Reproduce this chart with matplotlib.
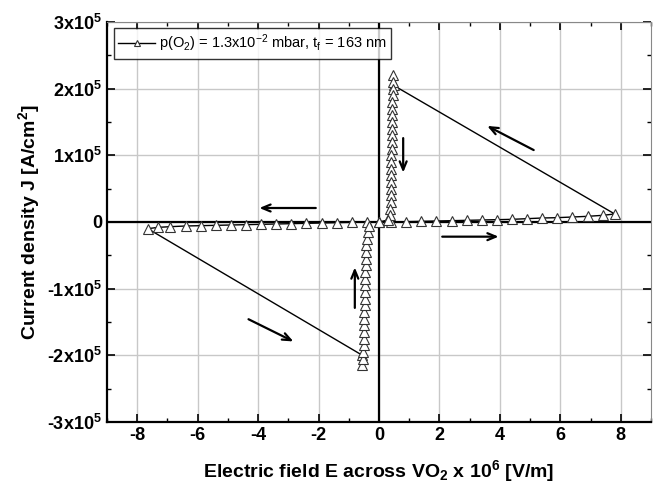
import matplotlib
matplotlib.use("Agg")
import matplotlib.pyplot as plt
from matplotlib.ticker import MultipleLocator, FixedLocator

plt.rcParams['font.family'] = ['Liberation Sans Narrow', 'Liberation Sans', 'DejaVu Sans']
plt.rcParams['mathtext.fontset'] = 'custom'
plt.rcParams['mathtext.rm'] = 'Liberation Sans'
plt.rcParams['mathtext.it'] = 'Liberation Sans'
plt.rcParams['mathtext.bf'] = 'Liberation Sans:bold'
plt.rcParams['axes.unicode_minus'] = False

# Forward sweep 0 -> +7.8 (insulating branch), units: E x10^6 V/m, J x10^5 A/cm^2
e_pos_low = [0.0, 0.4, 0.9, 1.4, 1.9, 2.4, 2.9, 3.4, 3.9, 4.4, 4.9, 5.4, 5.9, 6.4, 6.9, 7.4, 7.8]
j_pos_low = [0.0, 0.0, 0.005, 0.01, 0.015, 0.02, 0.025, 0.03, 0.035, 0.04, 0.05, 0.06, 0.065, 0.075, 0.085, 0.1, 0.12]
# Metallic branch after switching, descending at E ~ 0.4
e_pos_high = [0.48, 0.46, 0.46, 0.45, 0.45, 0.44, 0.44, 0.43, 0.43, 0.43, 0.42, 0.42, 0.42, 0.41, 0.41, 0.41, 0.40, 0.40, 0.40, 0.39, 0.39, 0.38, 0.37, 0.30]
j_pos_high = [2.05, 2.2, 2.1, 2.0, 1.9, 1.8, 1.7, 1.6, 1.5, 1.4, 1.3, 1.2, 1.1, 1.0, 0.9, 0.8, 0.7, 0.6, 0.5, 0.4, 0.3, 0.2, 0.1, 0.03]
# Reverse sweep 0 -> -7.65
e_neg_low = [0.0, -0.4, -0.9, -1.4, -1.9, -2.4, -2.9, -3.4, -3.9, -4.4, -4.9, -5.4, -5.9, -6.4, -6.9, -7.3, -7.65]
j_neg_low = [0.0, 0.0, -0.005, -0.01, -0.015, -0.02, -0.025, -0.03, -0.035, -0.04, -0.045, -0.05, -0.055, -0.06, -0.07, -0.08, -0.1]
# Metallic branch, ascending at E ~ -0.45
e_neg_high = [-0.55, -0.55, -0.53, -0.52, -0.51, -0.5, -0.49, -0.49, -0.48, -0.48, -0.47, -0.47, -0.46, -0.46, -0.45, -0.45, -0.44, -0.44, -0.43, -0.42, -0.41, -0.38, -0.32]
j_neg_high = [-2.0, -2.15, -2.05, -1.95, -1.85, -1.75, -1.65, -1.55, -1.45, -1.35, -1.25, -1.15, -1.05, -0.95, -0.85, -0.75, -0.65, -0.55, -0.45, -0.35, -0.25, -0.15, -0.06]

e_all = e_pos_low + e_pos_high + e_neg_low + e_neg_high
j_all = [v * 1e5 for v in j_pos_low + j_pos_high + j_neg_low + j_neg_high]

y_ticks = [-3, -2, -1, 0, 1, 2, 3]
y_labels = [r'-3x10$^\mathbf{5}$', r'-2x10$^\mathbf{5}$', r'-1x10$^\mathbf{5}$', '0',
            r'1x10$^\mathbf{5}$', r'2x10$^\mathbf{5}$', r'3x10$^\mathbf{5}$']
x_ticks = [-8, -6, -4, -2, 0, 2, 4, 6, 8]

# arrows: (x_start, y_start, x_end, y_end) in data units (J in 1e5)
arrows = [(5.2, 1.06, 3.5, 1.46),
          (0.8, 1.3, 0.8, 0.7),
          (-2.0, 0.21, -4.05, 0.21),
          (2.0, -0.22, 4.05, -0.22),
          (-0.8, -1.33, -0.8, -0.64),
          (-4.4, -1.44, -2.75, -1.81)]

fig = plt.figure(figsize=(6.56, 4.88), dpi=100)
ax = fig.add_axes([107/656, 66/488, 544/656, 400/488])

ax.set_xlim(-9, 9)
ax.set_ylim(-3e5, 3e5)
ax.grid(True, color='#c8c8c8', linewidth=1.0)
ax.set_axisbelow(True)
ax.axhline(0, color='black', linewidth=1.6, zorder=2)
ax.axvline(0, color='black', linewidth=1.6, zorder=2)

ax.plot(e_all, j_all, color='black', linewidth=1.0, marker='^', markersize=7.5,
        markerfacecolor='white', markeredgecolor='#333333', markeredgewidth=0.8, zorder=3,
        label=r'p(O$_\mathrm{2}$) = 1.3x10$^\mathrm{-2}$ mbar, t$_\mathrm{f}$ = 163 nm')

for xs, ys, xe, ye in arrows:
    ax.annotate('', xy=(xe, ye * 1e5), xytext=(xs, ys * 1e5),
                arrowprops=dict(arrowstyle='->,head_length=0.6,head_width=0.25', color='black', lw=1.6))

ax.xaxis.set_major_locator(FixedLocator(x_ticks))
ax.xaxis.set_minor_locator(MultipleLocator(1))
ax.set_yticks([v * 1e5 for v in y_ticks])
ax.set_yticklabels(y_labels)
ax.yaxis.set_minor_locator(MultipleLocator(0.5e5))
ax.tick_params(which='both', direction='in', top=True, right=True, labelsize=13)
ax.tick_params(which='major', length=6, width=1.2)
ax.tick_params(which='minor', length=3, width=1.0)
for lbl in ax.get_xticklabels() + ax.get_yticklabels():
    lbl.set_fontweight('bold')

ax.spines['left'].set_linewidth(1.6)
ax.spines['bottom'].set_linewidth(1.6)
ax.spines['top'].set_color('#888888')
ax.spines['right'].set_color('#888888')

ax.set_xlabel(r'Electric field E across VO$_\mathbf{2}$ x 10$^\mathbf{6}$ [V/m]', fontsize=14, fontweight='bold', labelpad=10)
ax.set_ylabel(r'Current density J [A/cm$^\mathbf{2}$]', fontsize=14, fontweight='bold', labelpad=4)

leg = ax.legend(loc='upper left', bbox_to_anchor=(0.005, 0.995), fontsize=10.5, frameon=True,
                fancybox=False, edgecolor='black', handlelength=2.5, borderpad=0.3,
                handletextpad=0.3, markerscale=0.6, borderaxespad=0.3)
leg.get_frame().set_linewidth(1.0)

fig.savefig('out.png', dpi=100)
